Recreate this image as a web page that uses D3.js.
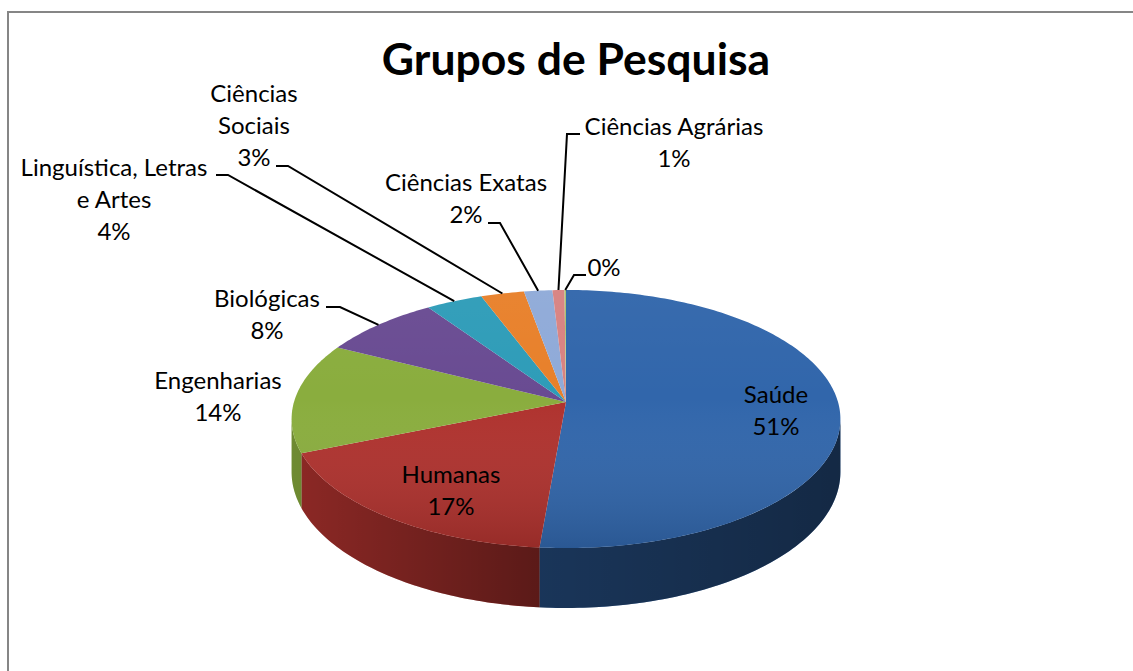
<!DOCTYPE html>
<meta charset="utf-8">
<script src="https://d3js.org/d3.v7.min.js"></script>
<style>
body { margin: 0; background: #fff; }
text { font-family: Lato, "Open Sans", sans-serif; fill: #000; }
</style>
<body>
<div id="canvas"></div>
<script>

// dados ---------------------------------------------------
var categories = ["Saúde", "Humanas", "Engenharias", "Biológicas", "Linguística, Letras e Artes",
                  "Ciências Sociais", "Ciências Exatas", "Ciências Agrárias", ""];
var values = [514, 174, 138, 80, 38, 29, 19, 8, 1];
var colors = ["#3166ab", "#af322e", "#8aad3e", "#694b92", "#2e9cb8",
              "#e8802a", "#8faad8", "#d88281", "#a8c270"];

// posicao dos rotulos (centro x, baseline da 1a linha), quebra de linha e linha guia
var labelLayout = [
    {x: 776, y: 403, br: 0},
    {x: 451, y: 483, br: 0},
    {x: 218, y: 389, br: 0},
    {x: 267, y: 307, br: 0, lead: [[326, 307], [340, 307]]},
    {x: 114, y: 176, br: 2, lead: [[216, 175], [228, 175]]},
    {x: 254, y: 102, br: 1, lead: [[276, 166], [288, 166]]},
    {x: 466, y: 191, br: 0, lead: [[488, 223], [500, 223]]},
    {x: 674, y: 135, br: 0, lead: [[580, 134], [567, 134]]},
    {x: 604, y: 276, br: 0, lead: [[586, 275], [574, 275]]}
];

var width = 1133, height = 671;

var svg = d3.select("#canvas")
    .append("svg")
    .attr("width", width)
    .attr("height", height);

// moldura
svg.append("rect")
    .attr("x", 8).attr("y", 12)
    .attr("width", 1200).attr("height", 800)
    .attr("fill", "#fff")
    .attr("stroke", "#868686")
    .attr("stroke-width", 2);

svg.append("text")
    .attr("x", 576).attr("y", 75)
    .attr("text-anchor", "middle")
    .style("font-size", "44.5px")
    .style("font-weight", "bold")
    .text("Grupos de Pesquisa");

// geometria da pizza 3D (perspectiva simples)
var cx = 566, cy = 402, rx = 272, ry = 126.8, p = 0.132, depth = 52;

function proj(a) {
    var x = Math.sin(a), z = Math.cos(a), k = 1 / (1 + p * z);
    return [cx + rx * x * k, cy - ry * z * k, k];
}
function arcPts(a0, a1) {
    var n = Math.max(2, Math.ceil((a1 - a0) / (Math.PI / 180))), pts = [];
    for (var i = 0; i <= n; i++) pts.push(proj(a0 + (a1 - a0) * i / n));
    return pts;
}
var line = d3.line().x(function(d) { return d[0]; }).y(function(d) { return d[1]; });

function sidePath(a0, a1) {
    var top = arcPts(a0, a1);
    var bottom = top.slice().reverse().map(function(d) { return [d[0], d[1] + depth * d[2]]; });
    return line(top.concat(bottom)) + "Z";
}

var pie = d3.pie().sort(null).value(function(d) { return d; });
var arcs = pie(values);
var total = d3.sum(values);
var fmt = d3.format(".0%");

var defs = svg.append("defs");
var sideGrad = defs.append("linearGradient")
    .attr("id", "sideShade")
    .attr("gradientUnits", "userSpaceOnUse")
    .attr("x1", cx - rx).attr("x2", cx + rx).attr("y1", 0).attr("y2", 0);
sideGrad.append("stop").attr("offset", 0).attr("stop-color", "#000").attr("stop-opacity", 0.2);
sideGrad.append("stop").attr("offset", 0.45).attr("stop-color", "#000").attr("stop-opacity", 0.48);
sideGrad.append("stop").attr("offset", 1).attr("stop-color", "#000").attr("stop-opacity", 0.6);

var topGrad = defs.append("linearGradient")
    .attr("id", "topShade")
    .attr("gradientUnits", "userSpaceOnUse")
    .attr("x1", 0).attr("x2", 0).attr("y1", cy - ry).attr("y2", cy + ry * 1.15);
topGrad.append("stop").attr("offset", 0).attr("stop-color", "#fff").attr("stop-opacity", 0.04);
topGrad.append("stop").attr("offset", 0.45).attr("stop-color", "#fff").attr("stop-opacity", 0);
topGrad.append("stop").attr("offset", 1).attr("stop-color", "#000").attr("stop-opacity", 0.14);

var g = svg.append("g");

// laterais visiveis (frente)
var t0 = Math.acos(-p), t1 = 2 * Math.PI - t0;
g.selectAll(".side")
    .data(arcs.filter(function(d) { return d.endAngle > t0 && d.startAngle < t1; }))
    .enter()
    .append("path")
    .attr("class", "side")
    .attr("d", function(d) { return sidePath(Math.max(d.startAngle, t0), Math.min(d.endAngle, t1)); })
    .attr("fill", function(d) { return colors[d.index]; });

g.append("path")
    .attr("d", sidePath(t0, t1))
    .attr("fill", "url(#sideShade)");

// topo
g.selectAll(".top")
    .data(arcs)
    .enter()
    .append("path")
    .attr("class", "top")
    .attr("d", function(d) { return line([[cx, cy]].concat(arcPts(d.startAngle, d.endAngle))) + "Z"; })
    .attr("fill", function(d) { return colors[d.index]; });

g.append("path")
    .attr("d", line(arcPts(0, 2 * Math.PI)) + "Z")
    .attr("fill", "url(#topShade)");

// linhas guia
g.selectAll(".lead")
    .data(arcs.filter(function(d) { return labelLayout[d.index].lead; }))
    .enter()
    .append("path")
    .attr("class", "lead")
    .attr("d", function(d) {
        var l = labelLayout[d.index].lead;
        var m = proj((d.startAngle + d.endAngle) / 2);
        return line([l[0], l[1], m]);
    })
    .attr("fill", "none")
    .attr("stroke", "#000")
    .attr("stroke-width", 2);

// rotulos
var labels = g.selectAll(".label")
    .data(arcs)
    .enter()
    .append("text")
    .attr("class", "label")
    .attr("text-anchor", "middle")
    .style("font-size", "24px");

labels.each(function(d) {
    var lay = labelLayout[d.index];
    var words = categories[d.index] ? categories[d.index].split(" ") : [];
    var rows = [];
    if (words.length) {
        if (lay.br) { rows.push(words.slice(0, lay.br).join(" ")); rows.push(words.slice(lay.br).join(" ")); }
        else rows.push(words.join(" "));
    }
    rows.push(fmt(d.value / total));
    d3.select(this).selectAll("tspan")
        .data(rows)
        .enter()
        .append("tspan")
        .attr("x", lay.x)
        .attr("y", function(r, i) { return lay.y + i * 32; })
        .text(function(r) { return r; });
});

</script>
</body>
